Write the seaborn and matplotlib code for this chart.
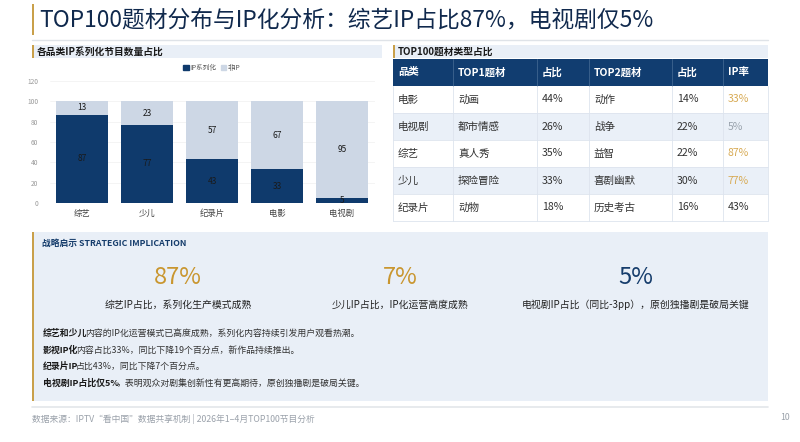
import matplotlib
matplotlib.use("Agg")
import matplotlib.pyplot as plt
from matplotlib.patches import Rectangle, Patch
import seaborn as sns
import pandas as pd

# ---------------- data ----------------
categories = ["综艺", "少儿", "纪录片", "电影", "电视剧"]
ip_values = [87, 77, 43, 33, 5]
non_ip_values = [13, 23, 57, 67, 95]
y_ticks = [0, 20, 40, 60, 80, 100, 120]

table_header = ["品类", "TOP1题材", "占比", "TOP2题材", "占比", "IP率"]
table_cat = ["电影", "电视剧", "综艺", "少儿", "纪录片"]
table_top1 = ["动画", "都市情感", "真人秀", "探险冒险", "动物"]
table_top1_share = ["44%", "26%", "35%", "33%", "18%"]
table_top2 = ["动作", "战争", "益智", "喜剧幽默", "历史考古"]
table_top2_share = ["14%", "22%", "22%", "30%", "16%"]
table_ip_rate = ["33%", "5%", "87%", "77%", "43%"]

kpi_values = ["87%", "7%", "5%"]
kpi_labels = ["综艺IP占比，系列化生产模式成熟", "少儿IP占比，IP化运营高度成熟",
              "电视剧IP占比（同比-3pp），原创独播剧是破局关键"]

body_lines = [
    ("综艺和少儿", "内容的IP化运营模式已高度成熟，系列化内容持续引发用户观看热潮。"),
    ("影视IP化", "内容占比33%，同比下降19个百分点，新作品持续推出。"),
    ("纪录片IP", "占比43%，同比下降7个百分点。"),
    ("电视剧IP占比仅5%", "，表明观众对剧集创新性有更高期待，原创独播剧是破局关键。"),
]

title = "TOP100题材分布与IP化分析：综艺IP占比87%，电视剧仅5%"
left_header = "各品类IP系列化节目数量占比"
right_header = "TOP100题材类型占比"
box_header = "战略启示 STRATEGIC IMPLICATION"
footer = "数据来源：IPTV\u201c看中国\u201d数据共享机制 | 2026年1–4月TOP100节目分析"
page_no = "10"

# ---------------- style ----------------
sns.set_theme(style="white")
plt.rcParams["font.family"] = ["Noto Sans CJK SC", "DejaVu Sans"]

NAVY = "#0f3a6c"
LIGHT = "#cdd7e5"
GOLD = "#c9962f"
GOLD_L = "#d8ab55"
PANEL = "#e9eff7"
BAR_GOLD = "#c9a04a"
TXT = "#333333"

W, H = 800, 442
fig = plt.figure(figsize=(W / 100, H / 100), dpi=100)
fig.patch.set_facecolor("white")

bg = fig.add_axes([0, 0, 1, 1])
bg.set_xlim(0, W)
bg.set_ylim(H, 0)
bg.axis("off")
bg.set_zorder(0)

# ---- title ----
bg.add_patch(Rectangle((31.5, 4), 2.2, 31, color=BAR_GOLD, lw=0))
bg.text(39, 20, title, fontsize=16.4, fontweight="medium", color="#10294d",
        va="center", ha="left")
bg.plot([32, 768], [40, 40], color="#dfe3e8", lw=1)

# ---- section headers ----
def section_header(x0, x1, y0, y1, text):
    bg.add_patch(Rectangle((x0, y0), x1 - x0, y1 - y0, color=PANEL, lw=0))
    bg.add_patch(Rectangle((x0, y0), 2, y1 - y0, color=BAR_GOLD, lw=0))
    bg.text(x0 + 4.5, (y0 + y1) / 2, text, fontsize=7, fontweight="bold",
            color="#1a1a1a", va="center", ha="left")

section_header(32, 382, 45, 58, left_header)
section_header(393, 768, 45, 58, right_header)

# ---- table ----
col_x = [393, 453, 537, 589, 672, 723, 768]
row_y = [59, 86, 113, 140, 167, 194, 221]
bg.add_patch(Rectangle((col_x[0], row_y[0]), col_x[-1] - col_x[0], row_y[1] - row_y[0],
                       color="#113d70", lw=0))
for j, h in enumerate(table_header):
    bg.text(col_x[j] + 5, (row_y[0] + row_y[1]) / 2, h, fontsize=7.5, color="white",
            fontweight="bold", va="center", ha="left")
rows = list(zip(table_cat, table_top1, table_top1_share, table_top2, table_top2_share, table_ip_rate))
ip_colors = {"33%": GOLD_L, "5%": "#9aa3ad", "87%": GOLD_L, "77%": GOLD_L, "43%": TXT}
for i, r in enumerate(rows):
    y0, y1 = row_y[i + 1], row_y[i + 2]
    face = "white" if i % 2 == 0 else "#eaf0f8"
    bg.add_patch(Rectangle((col_x[0], y0), col_x[-1] - col_x[0], y1 - y0, color=face, lw=0))
    for j, val in enumerate(r):
        c = ip_colors.get(val, TXT) if j == 5 else TXT
        bg.text(col_x[j] + 5, (y0 + y1) / 2, val, fontsize=7.6, color=c, va="center", ha="left")
for x in col_x[1:-1]:
    bg.plot([x, x], [row_y[0], row_y[1]], color="#3f6590", lw=0.6)
    bg.plot([x, x], [row_y[1], row_y[-1]], color="#dde4ee", lw=0.6)
for y in row_y[2:]:
    bg.plot([col_x[0], col_x[-1]], [y, y], color="#dde4ee", lw=0.6)
bg.plot([col_x[0], col_x[0]], [row_y[1], row_y[-1]], color="#dde4ee", lw=0.6)
bg.plot([col_x[-1], col_x[-1]], [row_y[1], row_y[-1]], color="#dde4ee", lw=0.6)

# ---- strategic box ----
bg.add_patch(Rectangle((32, 232), 736, 169, color=PANEL, lw=0))
bg.add_patch(Rectangle((32, 232), 2, 169, color=BAR_GOLD, lw=0))
bg.plot([32, 768], [406.5, 406.5], color="#e3e6ea", lw=1.2)
bg.text(42.5, 243, box_header, fontsize=6.3, color="#163d6c", fontweight="bold",
        va="center", ha="left")
kpi_x = [178, 400, 636]
kpi_colors = [GOLD, GOLD, "#163d6c"]
for x, v, lab, c in zip(kpi_x, kpi_values, kpi_labels, kpi_colors):
    bg.text(x, 277, v, fontsize=17, fontweight="medium", color=c, va="center", ha="center")
    bg.text(x, 304.5, lab, fontsize=7.1, color="#222222", va="center", ha="center")

renderer = fig.canvas.get_renderer()
line_y = [333.5, 350, 366.5, 383.5]
for y, (b, rest) in zip(line_y, body_lines):
    tb = bg.text(43, y, b, fontsize=6.4, fontweight="bold", color="#1a1a1a",
                 va="center", ha="left")
    wpx = tb.get_window_extent(renderer=renderer).width
    bg.text(43 + wpx - 2.5, y, rest, fontsize=6.4, color="#333333", va="center", ha="left")

bg.text(32, 419, footer, fontsize=6.3, color="#9aa1aa", va="center", ha="left")
bg.text(780, 418, page_no, fontsize=6.3, color="#9aa1aa", va="center", ha="left")

# ---- bar chart ----
left_px, right_px = 49.5, 374.5
bottom_px, top_px = 203, 81
ax = fig.add_axes([left_px / W, (H - bottom_px) / H, (right_px - left_px) / W,
                   (bottom_px - top_px) / H])
ax.set_zorder(2)
ax.patch.set_alpha(0)

df = pd.DataFrame({"cat": categories, "ip": ip_values, "non": non_ip_values})
df["total"] = df["ip"] + df["non"]
sns.barplot(data=df, x="cat", y="total", color=LIGHT, width=0.8, saturation=1, ax=ax)
sns.barplot(data=df, x="cat", y="ip", color=NAVY, width=0.8, saturation=1, ax=ax)
for p in ax.patches:
    p.set_edgecolor("none")

ip_container = ax.containers[1]
ax.bar_label(ip_container, labels=[str(v) for v in ip_values], label_type="center",
             fontsize=6, color="#1a1a1a")
for i, (a, b) in enumerate(zip(ip_values, non_ip_values)):
    ax.text(i, a + b / 2, str(b), fontsize=6, color="#1a1a1a", ha="center", va="center")

ax.set_xlim(-0.5, 4.5)
ax.set_ylim(0, 120)
ax.set_yticks(y_ticks)
ax.set_yticklabels([str(t) for t in y_ticks], fontsize=4.8, color="#9a9a9a")
ax.tick_params(axis="y", length=0, pad=8)
ax.tick_params(axis="x", length=0, pad=4, labelsize=6, labelcolor="#444444")
ax.set_xlabel("")
ax.set_ylabel("")
ax.yaxis.grid(True, color="#f0f0f0", lw=0.5)
ax.set_axisbelow(True)
for s in ax.spines.values():
    s.set_visible(False)

handles = [Patch(color=NAVY, label="IP系列化"), Patch(color=LIGHT, label="非IP")]
ax.legend(handles=handles, loc="center", bbox_to_anchor=(0.5, (203 - 68) / 122),
          bbox_transform=ax.transAxes, ncol=2, frameon=False, fontsize=4.8,
          handlelength=0.8, handleheight=0.8, handletextpad=0.3, columnspacing=0.6,
          labelcolor="#555555")

fig.savefig("out.png", dpi=100)
